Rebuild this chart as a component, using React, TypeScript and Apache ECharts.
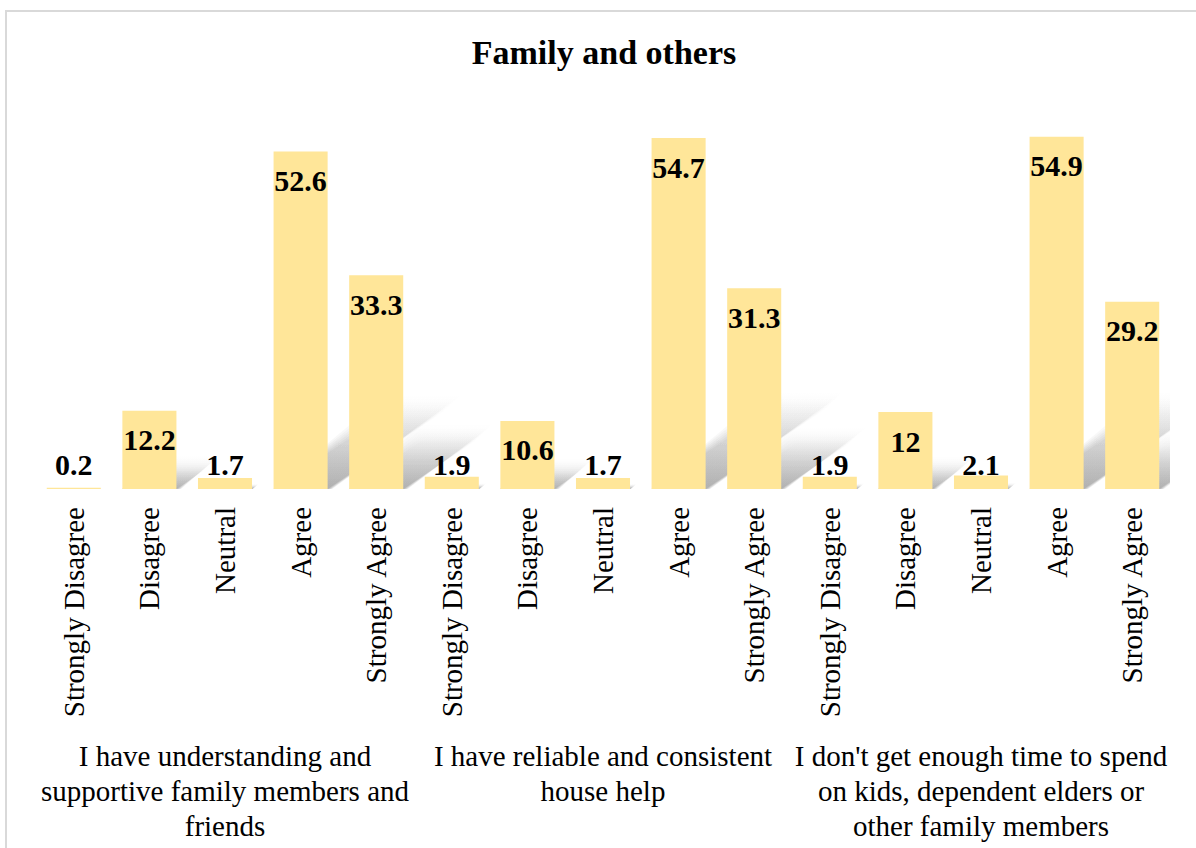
import React, { useEffect, useRef } from "react";
import * as echarts from "echarts";

const title = "Family and others";
const categories = [
  "Strongly Disagree", "Disagree", "Neutral", "Agree", "Strongly Agree",
  "Strongly Disagree", "Disagree", "Neutral", "Agree", "Strongly Agree",
  "Strongly Disagree", "Disagree", "Neutral", "Agree", "Strongly Agree",
];
const values = [0.2, 12.2, 1.7, 52.6, 33.3, 1.9, 10.6, 1.7, 54.7, 31.3, 1.9, 12, 2.1, 54.9, 29.2];
const groups = [
  "I have understanding and\nsupportive family members and\nfriends",
  "I have reliable and consistent\nhouse help",
  "I don't get enough time to spend\non kids, dependent elders or\nother family members",
];

const FONT = "'Liberation Serif', 'Times New Roman', serif";
const BAR_FRACTION = 0.715;
const SHADOW_LAYERS = [0, 3, 6, 9, 12, 15];

export default function App() {
  const ref = useRef<HTMLDivElement>(null);
  useEffect(() => {
    if (!ref.current) return;
    const chart = echarts.init(ref.current, null, { renderer: "svg" });
    const option: any = {
      animation: false,
      backgroundColor: "#ffffff",
      title: {
        text: title,
        left: 604,
        top: 35,
        padding: 0,
        textAlign: "center",
        textStyle: { fontFamily: FONT, fontSize: 34, fontWeight: "bold", color: "#000" },
      },
      graphic: [
        {
          type: "rect",
          shape: { x: 6, y: 11, width: 1400, height: 1000 },
          style: { fill: "none", stroke: "#d9d9d9", lineWidth: 2 },
          silent: true,
          z: 0,
        },
      ],
      grid: { left: 36, right: 26, top: 104, bottom: 359, containLabel: false },
      xAxis: [
        {
          type: "category",
          data: categories,
          axisLine: { show: false },
          axisTick: { show: false },
          axisLabel: {
            interval: 0,
            rotate: 90,
            margin: 18,
            fontFamily: FONT,
            fontSize: 29,
            color: "#000",
          },
        },
        {
          type: "category",
          data: groups,
          position: "bottom",
          axisLine: { show: false },
          axisTick: { show: false },
          axisLabel: {
            interval: 0,
            margin: 249,
            fontFamily: FONT,
            fontSize: 29,
            lineHeight: 35,
            color: "#000",
            verticalAlign: "top",
          },
        },
      ],
      yAxis: { type: "value", min: 0, max: 60, show: false, splitLine: { show: false } },
      series: [
        {
          type: "custom",
          xAxisIndex: 0,
          clip: true,
          z: 1,
          silent: true,
          data: values.map((v, i) => [i, v]),
          renderItem: (params: any, api: any) => {
            const xi = api.value(0);
            const v = api.value(1);
            const base = api.coord([xi, 0]);
            const top = api.coord([xi, v]);
            const bw = api.size([1, 0])[0] * BAR_FRACTION;
            const x0 = base[0] - bw / 2;
            const x1 = base[0] + bw / 2;
            const h = base[1] - top[1];
            const hh = h * 0.24;
            const dx = h * 0.36;
            const by = base[1];
            const s = Math.min(1, h / 60);
            return {
              type: "group",
              children: SHADOW_LAYERS.map((e) => ({
                type: "polygon",
                shape: {
                  points: [
                    [x0, by],
                    [x1 + e * 0.3 * s, by],
                    [x1 + dx + e * s, by - hh - e * s],
                    [x0 + dx - e * 0.5 * s, by - hh - e * s],
                  ],
                },
                style: {
                  fill: new echarts.graphic.LinearGradient(0, 0, 0, 1, [
                    { offset: 0, color: "rgba(0,0,0,0)" },
                    { offset: 0.55, color: "rgba(0,0,0,0.035)" },
                    { offset: 1, color: "rgba(0,0,0,0.06)" },
                  ]),
                },
              })),
            };
          },
        },
        {
          type: "bar",
          xAxisIndex: 0,
          z: 2,
          barCategoryGap: "28.5%",
          itemStyle: { color: "#FFE699" },
          data: values.map((v) => ({
            value: v,
            label: v < 5
              ? { position: "insideBottom", distance: 10 }
              : { position: "insideTop", distance: 14 },
          })),
          label: {
            show: true,
            fontFamily: FONT,
            fontSize: 30,
            fontWeight: "bold",
            color: "#000",
          },
        },
      ],
    };
    chart.setOption(option);
    return () => chart.dispose();
  }, []);
  return (
    <div
      ref={ref}
      style={{ position: "absolute", left: 0, top: 0, width: 1196, height: 848 }}
    />
  );
}
